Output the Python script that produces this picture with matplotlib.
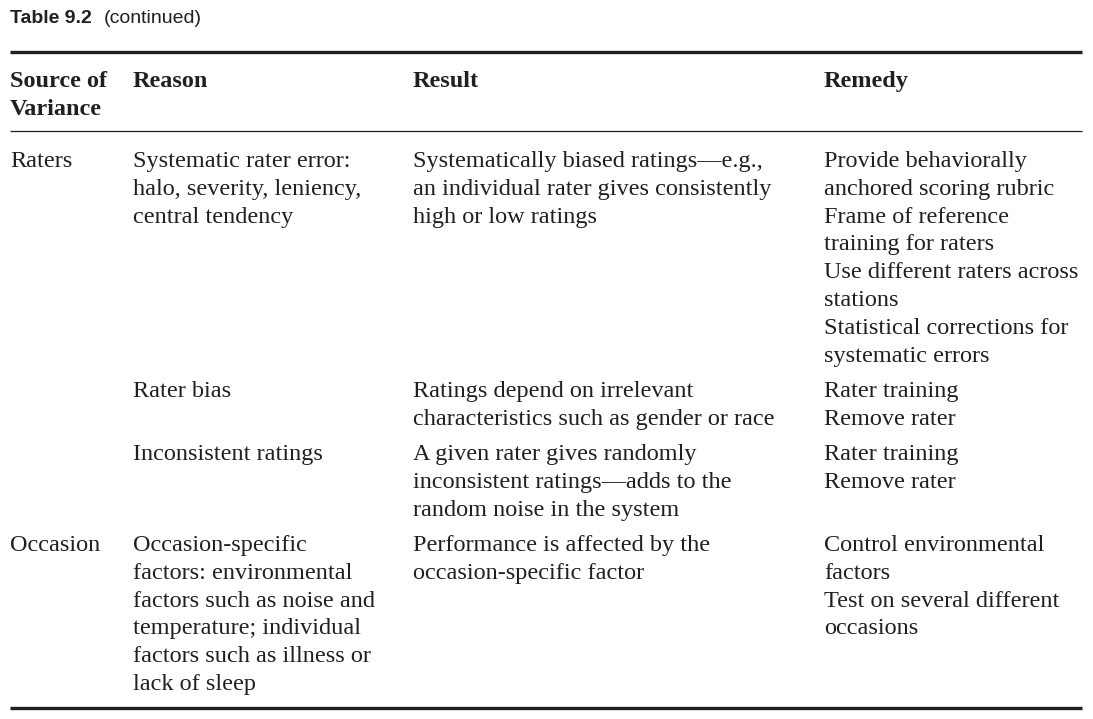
import matplotlib.pyplot as plt

# table content, one list of lines per cell
title_bold = "Table 9.2"
title_rest = "(continued)"
headers = [["Source of", "Variance"], ["Reason"], ["Result"], ["Remedy"]]

rows = [
    (["Raters"],
     ["Systematic rater error:", "halo, severity, leniency,", "central tendency"],
     ["Systematically biased ratings\u2014e.g.,", "an individual rater gives consistently",
      "high or low ratings"],
     ["Provide behaviorally", "anchored scoring rubric", "Frame of reference",
      "training for raters", "Use different raters across", "stations",
      "Statistical corrections for", "systematic errors"]),
    ([],
     ["Rater bias"],
     ["Ratings depend on irrelevant", "characteristics such as gender or race"],
     ["Rater training", "Remove rater"]),
    ([],
     ["Inconsistent ratings"],
     ["A given rater gives randomly", "inconsistent ratings\u2014adds to the",
      "random noise in the system"],
     ["Rater training", "Remove rater"]),
    (["Occasion"],
     ["Occasion-specific", "factors: environmental", "factors such as noise and",
      "temperature; individual", "factors such as illness or", "lack of sleep"],
     ["Performance is affected by the", "occasion-specific factor"],
     ["Control environmental", "factors", "Test on several different", "occasions"]),
]

col_x = [10, 133, 413, 824]
row_base = [167, 397, 460, 551]   # baseline of first line in each row
line_h = 27.8

fig = plt.figure(figsize=(10.93, 7.19), dpi=100)
ax = fig.add_axes([0, 0, 1, 1])
ax.set_xlim(0, 1093)
ax.set_ylim(719, 0)
ax.axis('off')

serif = ['Liberation Serif', 'DejaVu Serif']
sans = ['Liberation Sans Narrow', 'Liberation Sans', 'DejaVu Sans']
fs = 17.5
ink = '#231f20'

# title
ax.text(10, 23, title_bold, fontsize=14, fontweight='bold', va='baseline',
        family=sans, color=ink)
ax.text(104, 23, title_rest, fontsize=14, va='baseline', family=sans, color=ink)

# rules
ax.plot([10, 1082], [52, 52], color=ink, lw=2.4, solid_capstyle='butt')
ax.plot([10, 1082], [131, 131], color=ink, lw=0.9, solid_capstyle='butt')
ax.plot([10, 1082], [708, 708], color=ink, lw=2.4, solid_capstyle='butt')

# header
for x, lines in zip(col_x, headers):
    for i, s in enumerate(lines):
        ax.text(x, 87 + i * line_h, s, fontsize=fs, fontweight='bold',
                va='baseline', family=serif, color=ink)

# body
for y0, cells in zip(row_base, rows):
    for x, lines in zip(col_x, cells):
        for i, s in enumerate(lines):
            ax.text(x, y0 + i * line_h, s, fontsize=fs, va='baseline',
                    family=serif, color=ink)

fig.savefig('out.png', dpi=100)
